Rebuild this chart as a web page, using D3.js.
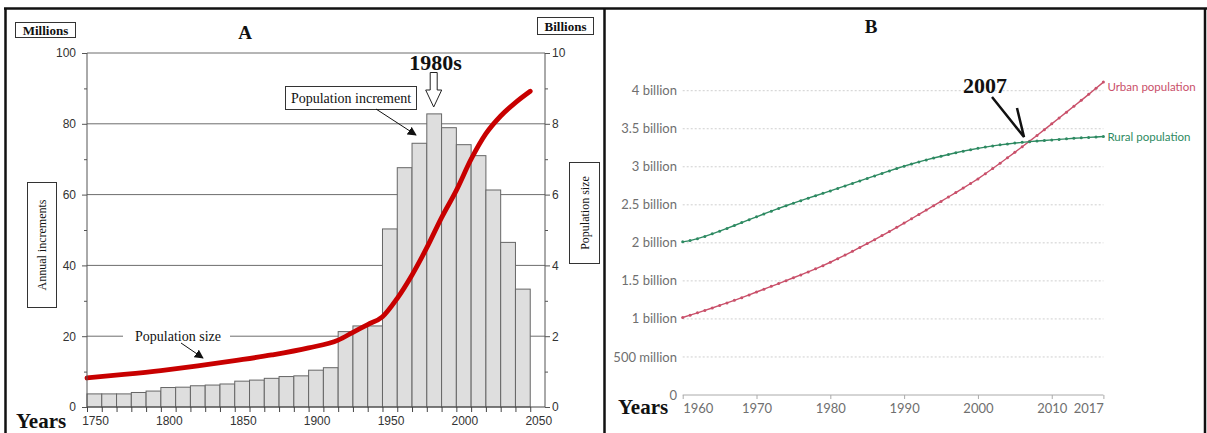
<!DOCTYPE html>
<html>
<head>
<meta charset="utf-8">
<script src="https://cdn.jsdelivr.net/npm/d3@7"></script>
<style>
  html, body { margin: 0; padding: 0; background: #fff; }
  svg { display: block; }
</style>
</head>
<body>
<svg id="chart" width="1207" height="433"></svg>
<script>
// ---------- Panel A: world population growth, 1750-2050 ----------
// Annual increments (millions per year), one bar per decade
const decadeStarts = [1750,1760,1770,1780,1790,1800,1810,1820,1830,1840,
                      1850,1860,1870,1880,1890,1900,1910,1920,1930,1940,
                      1950,1960,1970,1980,1990,2000,2010,2020,2030,2040];
const annualIncrements = [3.7,3.7,3.7,4.1,4.5,5.5,5.6,6.0,6.2,6.5,
                          7.3,7.6,8.1,8.6,8.8,10.4,11.1,21.3,22.9,22.9,
                          50.3,67.6,74.5,82.8,78.9,74.1,71.0,61.3,46.5,33.3];
// Population size (billions)
const sizeYears = [1750,1775,1800,1825,1850,1875,1900,1920,1930,1940,1950,
                   1960,1970,1980,1990,2000,2010,2020,2030,2040,2050];
const sizeBillions = [0.82,0.92,1.03,1.16,1.31,1.47,1.67,1.89,2.11,2.33,2.55,
                      3.07,3.73,4.5,5.35,6.12,7.0,7.72,8.22,8.6,8.92];
const leftTicks = [0,10,20,30,40,50,60,70,80,90,100];
const rightTicks = [0,1,2,3,4,5,6,7,8,9,10];

// ---------- Panel B: urban and rural population, 1960-2017 ----------
const yearsB = d3.range(1960, 2018);
const urbanBillions = [1.019,1.049,1.080,1.112,1.144,1.177,1.210,1.244,1.279,1.316,
                       1.354,1.391,1.428,1.465,1.503,1.541,1.579,1.618,1.658,1.700,
                       1.745,1.792,1.840,1.889,1.939,1.990,2.042,2.095,2.149,2.204,
                       2.260,2.317,2.374,2.431,2.488,2.545,2.603,2.661,2.720,2.780,
                       2.840,2.908,2.977,3.047,3.118,3.190,3.263,3.337,3.412,3.488,
                       3.564,3.641,3.718,3.795,3.873,3.952,4.032,4.113];
const ruralBillions = [2.013,2.030,2.055,2.085,2.118,2.153,2.190,2.228,2.266,2.304,
                       2.342,2.380,2.417,2.453,2.488,2.522,2.555,2.587,2.619,2.651,
                       2.683,2.715,2.748,2.781,2.814,2.847,2.880,2.913,2.945,2.977,
                       3.008,3.037,3.064,3.090,3.115,3.139,3.162,3.184,3.205,3.224,
                       3.242,3.259,3.274,3.288,3.300,3.311,3.321,3.330,3.338,3.346,
                       3.353,3.360,3.367,3.374,3.380,3.386,3.392,3.398];
const yTicksB = [0,0.5,1,1.5,2,2.5,3,3.5,4];
const yTickLabelsB = ["0","500 million","1 billion","1.5 billion","2 billion",
                      "2.5 billion","3 billion","3.5 billion","4 billion"];
const xTicksB = [1960,1970,1980,1990,2000,2010,2017];

const svg = d3.select("#chart");
const serif = "'Liberation Serif', 'DejaVu Serif', serif";
const sans = "'Liberation Sans', Arial, sans-serif";
const lato = "Lato, 'Open Sans', sans-serif";

// ===================== PANEL A =====================
const gA = svg.append("g");
const xA = d3.scaleLinear().domain([1750, 2060]).range([87, 545]);
const yL = d3.scaleLinear().domain([0, 100]).range([407, 53]);
const yR = d3.scaleLinear().domain([0, 10]).range([407, 53]);

// horizontal grid lines behind the bars
gA.append("g").selectAll("line")
  .data([20, 40, 60, 80, 100])
  .join("line")
  .attr("x1", xA(1750)).attr("x2", xA(2060))
  .attr("y1", d => yL(d)).attr("y2", d => yL(d))
  .attr("stroke", "#6d6d6d").attr("stroke-width", 1);

// gap in the 20 line for the "Population size" label
gA.append("rect")
  .attr("x", 123).attr("y", yL(20) - 7).attr("width", 107).attr("height", 14)
  .attr("fill", "#fff");
gA.append("text")
  .attr("x", 178).attr("y", yL(20) + 4.5)
  .attr("text-anchor", "middle")
  .attr("font-family", serif).attr("font-size", 14).attr("fill", "#111")
  .text("Population size");

// bars: annual increments
gA.append("g").selectAll("rect")
  .data(decadeStarts.map((y, i) => ({ y, v: annualIncrements[i] })))
  .join("rect")
  .attr("x", d => xA(d.y))
  .attr("y", d => yL(d.v))
  .attr("width", d => xA(d.y + 10) - xA(d.y))
  .attr("height", d => yL(0) - yL(d.v))
  .attr("fill", "#dedede")
  .attr("stroke", "#666")
  .attr("stroke-width", 1);

// population size curve
const sizeLine = d3.line()
  .x((d, i) => xA(sizeYears[i]))
  .y(d => yR(d))
  .curve(d3.curveMonotoneX);
gA.append("path")
  .attr("d", sizeLine(sizeBillions))
  .attr("fill", "none")
  .attr("stroke", "#c80000")
  .attr("stroke-width", 4.8)
  .attr("stroke-linecap", "round");

// left axis (millions)
const axL = d3.axisLeft(yL).tickValues(leftTicks)
  .tickFormat(d => d % 20 === 0 ? d : "")
  .tickSize(5).tickPadding(6);
const gL = gA.append("g").attr("transform", `translate(${xA(1750)},0)`).call(axL);
gL.select(".domain").attr("stroke", "#555").attr("d", `M0,${yL(100)}V${yL(0)}`);
gL.selectAll(".tick line").attr("stroke", "#555")
  .attr("x2", d => d % 20 === 0 ? -5 : -3);
gL.selectAll("text").attr("font-family", sans).attr("font-size", 12).attr("fill", "#333");

// right axis (billions)
const axR = d3.axisRight(yR).tickValues(rightTicks)
  .tickFormat(d => d % 2 === 0 ? d : "")
  .tickSize(5).tickPadding(2);
const gR = gA.append("g").attr("transform", `translate(${xA(2060)},0)`).call(axR);
gR.select(".domain").attr("stroke", "#555").attr("d", `M0,${yR(10)}V${yR(0)}`);
gR.selectAll(".tick line").attr("stroke", "#555")
  .attr("x2", d => d % 2 === 0 ? 5 : 3);
gR.selectAll("text").attr("font-family", sans).attr("font-size", 12).attr("fill", "#333");

// bottom axis (years)
const axB = d3.axisBottom(xA).tickValues(d3.range(1750, 2051, 10))
  .tickFormat(d => d % 50 === 0 ? d : "")
  .tickSize(5).tickPadding(4);
const gXA = gA.append("g").attr("transform", `translate(0,${yL(0)})`).call(axB);
gXA.select(".domain").attr("stroke", "#444").attr("d", `M${xA(1750)},0H${xA(2060)}`);
gXA.selectAll(".tick line").attr("stroke", "#444");
gXA.selectAll("text").attr("font-family", sans).attr("font-size", 12).attr("fill", "#333")
  .attr("dx", 8);

// unit boxes
function boxLabel(g, x, y, w, h, text, opts) {
  g.append("rect").attr("x", x).attr("y", y).attr("width", w).attr("height", h)
    .attr("fill", "#fff").attr("stroke", "#333").attr("stroke-width", 1);
  const t = g.append("text")
    .attr("font-family", serif)
    .attr("font-size", opts.size)
    .attr("font-weight", opts.bold ? "bold" : "normal")
    .attr("fill", "#111")
    .attr("text-anchor", "middle")
    .attr("dominant-baseline", "central")
    .text(text);
  if (opts.rotate) {
    t.attr("transform", `translate(${x + w / 2},${y + h / 2}) rotate(-90)`);
  } else {
    t.attr("x", x + w / 2).attr("y", y + h / 2 + 0.5);
  }
}
boxLabel(gA, 15.5, 22.5, 60, 15, "Millions", { size: 13, bold: true });
boxLabel(gA, 537.5, 17.5, 56, 17, "Billions", { size: 13, bold: true });
boxLabel(gA, 27.5, 182.5, 29, 125, "Annual increments", { size: 12, rotate: true });
boxLabel(gA, 569.5, 162.5, 30, 101, "Population size", { size: 12, rotate: true });
boxLabel(gA, 285.5, 86.5, 131, 23, "Population increment", { size: 14 });

// panel title
gA.append("text").attr("x", 245).attr("y", 39).attr("text-anchor", "middle")
  .attr("font-family", serif).attr("font-weight", "bold").attr("font-size", 19)
  .attr("fill", "#111").text("A");

// 1980s peak marker
gA.append("text").attr("x", 435.5).attr("y", 70).attr("text-anchor", "middle")
  .attr("font-family", serif).attr("font-weight", "bold").attr("font-size", 22)
  .attr("fill", "#111").text("1980s");
const ax = xA(1985) - 0.5;
gA.append("path")
  .attr("d", `M${ax - 3.5},72.5 H${ax + 3.5} V90 H${ax + 8} L${ax},107 L${ax - 8},90 H${ax - 3.5} Z`)
  .attr("fill", "#fff").attr("stroke", "#222").attr("stroke-width", 1);

// pointer arrows
const defs = svg.append("defs");
defs.append("marker").attr("id", "tri")
  .attr("viewBox", "0 0 10 10").attr("refX", 9).attr("refY", 5)
  .attr("markerWidth", 9).attr("markerHeight", 9)
  .attr("markerUnits", "userSpaceOnUse")
  .attr("orient", "auto")
  .append("path").attr("d", "M0,0 L10,5 L0,10 Z").attr("fill", "#111");
gA.append("line").attr("x1", 376).attr("y1", 109).attr("x2", 416).attr("y2", 135)
  .attr("stroke", "#111").attr("stroke-width", 1).attr("marker-end", "url(#tri)");
gA.append("line").attr("x1", 181).attr("y1", 343).attr("x2", 203).attr("y2", 358)
  .attr("stroke", "#111").attr("stroke-width", 1).attr("marker-end", "url(#tri)");

gA.append("text").attr("x", 16).attr("y", 428)
  .attr("font-family", serif).attr("font-weight", "bold").attr("font-size", 21)
  .attr("fill", "#111").text("Years");

// ===================== PANEL B =====================
const gB = svg.append("g");
const xB = d3.scaleLinear().domain([1960, 2017]).range([682.7, 1103.4]);
const yB = d3.scaleLinear().domain([0, 4]).range([395, 90.7]);

// dotted grid
gB.append("g").selectAll("line")
  .data(yTicksB.filter(d => d > 0))
  .join("line")
  .attr("x1", xB(1960)).attr("x2", xB(2017))
  .attr("y1", d => yB(d)).attr("y2", d => yB(d))
  .attr("stroke", "#cfcfcf").attr("stroke-width", 1)
  .attr("stroke-dasharray", "2,2");

// y tick labels
gB.append("g").selectAll("text")
  .data(yTicksB)
  .join("text")
  .attr("x", 677).attr("y", d => yB(d))
  .attr("dy", "0.35em")
  .attr("text-anchor", "end")
  .attr("font-family", lato).attr("font-size", 13).attr("fill", "#6f6f6f")
  .text((d, i) => yTickLabelsB[i]);

// x axis; first and last labels sit inside the axis ends
const axXB = d3.axisBottom(xB).tickValues(xTicksB).tickFormat(d3.format("d"))
  .tickSize(4).tickPadding(5);
const gXB = gB.append("g").attr("transform", `translate(0,${yB(0)})`).call(axXB);
gXB.select(".domain").attr("stroke", "#aaa").attr("d", `M${xB(1960)},0H${xB(2017)}`);
gXB.selectAll(".tick line").attr("stroke", "#aaa");
gXB.selectAll("text").attr("font-family", lato).attr("font-size", 13).attr("fill", "#6f6f6f")
  .attr("text-anchor", d => d === 1960 ? "start" : d === 2017 ? "end" : "middle");

// series
const seriesB = [
  { name: "Urban population", values: urbanBillions, color: "#c9506a", labelDy: 5 },
  { name: "Rural population", values: ruralBillions, color: "#2e8a62", labelDy: 0 }
];
const lineB = d3.line().x((d, i) => xB(yearsB[i])).y(d => yB(d));
seriesB.forEach(s => {
  gB.append("path").attr("d", lineB(s.values))
    .attr("fill", "none").attr("stroke", s.color).attr("stroke-width", 1.4);
  gB.append("g").selectAll("circle")
    .data(s.values)
    .join("circle")
    .attr("cx", (d, i) => xB(yearsB[i]))
    .attr("cy", d => yB(d))
    .attr("r", 1.5)
    .attr("fill", s.color);
  gB.append("text")
    .attr("x", xB(2017) + 4)
    .attr("y", yB(s.values[s.values.length - 1]) + s.labelDy)
    .attr("dy", "0.35em")
    .attr("font-family", lato).attr("font-size", 11.5)
    .attr("fill", s.color)
    .text(s.name);
});

// crossover annotation
gB.append("text").attr("x", 985).attr("y", 93).attr("text-anchor", "middle")
  .attr("font-family", serif).attr("font-weight", "bold").attr("font-size", 22)
  .attr("fill", "#111").text("2007");
gB.append("path")
  .attr("d", "M992,97 L1024,137 L1017,108")
  .attr("fill", "none").attr("stroke", "#111").attr("stroke-width", 2.5)
  .attr("stroke-linejoin", "miter");

gB.append("text").attr("x", 871).attr("y", 33).attr("text-anchor", "middle")
  .attr("font-family", serif).attr("font-weight", "bold").attr("font-size", 19)
  .attr("fill", "#111").text("B");

gB.append("text").attr("x", 618).attr("y", 414)
  .attr("font-family", serif).attr("font-weight", "bold").attr("font-size", 21)
  .attr("fill", "#111").text("Years");

// ===================== frame =====================
const frame = svg.append("g").attr("stroke", "#111").attr("stroke-width", 2.5);
frame.append("line").attr("x1", 4).attr("x2", 1207).attr("y1", 8.5).attr("y2", 8.5);
frame.append("line").attr("x1", 5.5).attr("x2", 5.5).attr("y1", 8).attr("y2", 433);
frame.append("line").attr("x1", 604.5).attr("x2", 604.5).attr("y1", 8).attr("y2", 433);
frame.append("line").attr("x1", 1205).attr("x2", 1205).attr("y1", 8).attr("y2", 433);
</script>
</body>
</html>
